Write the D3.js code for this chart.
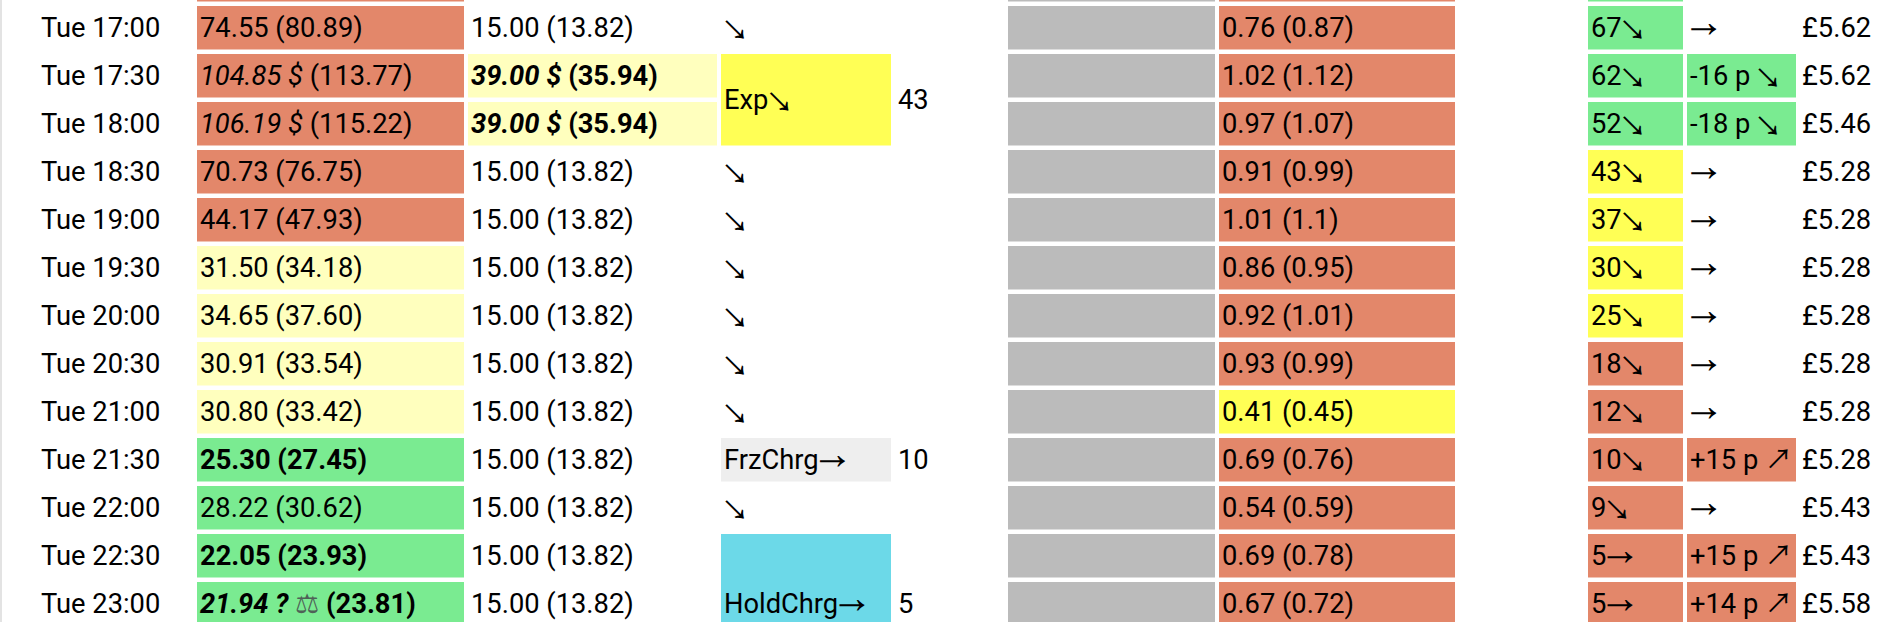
<!DOCTYPE html>
<html lang="en">
<head>
<meta charset="UTF-8" />
<title>Battery plan</title>
<style>
  html, body { margin: 0; padding: 0; background: #fff; overflow: hidden; }
  svg { display: block; font-family: Roboto, "DejaVu Sans", sans-serif; font-size: 27.3px; }
</style>
</head>
<body>
<svg id="chart" width="1888" height="622"></svg>
<script src="https://d3js.org/d3.v7.min.js"></script>
<script>
// row 0 is the half-hidden row at the top of the picture
var times = ["Tue 16:30", "Tue 17:00", "Tue 17:30", "Tue 18:00", "Tue 18:30", "Tue 19:00", "Tue 19:30",
  "Tue 20:00", "Tue 20:30", "Tue 21:00", "Tue 21:30", "Tue 22:00", "Tue 22:30", "Tue 23:00"];

var importPrice    = [null, 74.55, 104.85, 106.19, 70.73, 44.17, 31.50, 34.65, 30.91, 30.80, 25.30, 28.22, 22.05, 21.94];
var importPriceVat = [null, 80.89, 113.77, 115.22, 76.75, 47.93, 34.18, 37.60, 33.54, 33.42, 27.45, 30.62, 23.93, 23.81];
var importFlag     = ["", "", "$", "$", "", "", "", "", "", "", "", "", "", "? \u2696"];
var importBand     = ["orange", "orange", "orange", "orange", "orange", "orange", "pale", "pale", "pale", "pale", "green", "green", "green", "green"];
var importBest     = [false, false, false, false, false, false, false, false, false, false, true, false, true, true];

var exportPrice    = [null, 15.00, 39.00, 39.00, 15.00, 15.00, 15.00, 15.00, 15.00, 15.00, 15.00, 15.00, 15.00, 15.00];
var exportPriceVat = [null, 13.82, 35.94, 35.94, 13.82, 13.82, 13.82, 13.82, 13.82, 13.82, 13.82, 13.82, 13.82, 13.82];
var exportFlag     = ["", "", "$", "$", "", "", "", "", "", "", "", "", "", ""];

// actions: row where the block starts, how many rows it covers
var actionRow   = [1, 2, 4, 5, 6, 7, 8, 9, 10, 11, 12];
var actionSpan  = [1, 2, 1, 1, 1, 1, 1, 1, 1, 1, 3];
var actionLabel = ["\u2198", "Exp\u2198", "\u2198", "\u2198", "\u2198", "\u2198", "\u2198", "\u2198", "FrzChrg\u2192", "\u2198", "HoldChrg\u2192"];
var actionKind  = ["", "export", "", "", "", "", "", "", "freeze", "", "hold"];
var actionCount = ["", "43", "", "", "", "", "", "", "10", "", "5"];

var load     = [null, "0.76", "1.02", "0.97", "0.91", "1.01", "0.86", "0.92", "0.93", "0.41", "0.69", "0.54", "0.69", "0.67"];
var loadVat  = [null, "0.87", "1.12", "1.07", "0.99", "1.1", "0.95", "1.01", "0.99", "0.45", "0.76", "0.59", "0.78", "0.72"];
var loadBand = ["orange", "orange", "orange", "orange", "orange", "orange", "orange", "orange", "orange", "yellow", "orange", "orange", "orange", "orange"];

var soc      = [null, 67, 62, 52, 43, 37, 30, 25, 18, 12, 10, 9, 5, 5];
var socTrend = ["", "\u2198", "\u2198", "\u2198", "\u2198", "\u2198", "\u2198", "\u2198", "\u2198", "\u2198", "\u2198", "\u2198", "\u2192", "\u2192"];
var socBand  = ["green", "green", "green", "green", "yellow", "yellow", "yellow", "yellow", "orange", "orange", "orange", "orange", "orange", "orange"];

var costChange = [null, 0, -16, -18, 0, 0, 0, 0, 0, 0, 15, 0, 15, 14];
var dayCost    = [null, 5.62, 5.62, 5.46, 5.28, 5.28, 5.28, 5.28, 5.28, 5.28, 5.28, 5.43, 5.43, 5.58];

var colours = {
  orange: "#e3876a", green: "#7aeb91", pale: "#ffffbe", yellow: "#ffff55",
  grey: "#bbbbbb", freeze: "#eeeeee", hold: "#6cd9e8"
};

var colKeys = ["time", "import", "export", "action", "count", "grid", "load", "gap", "soc", "change", "cost"];
var colLeft = [38, 197, 468, 721, 895, 1008, 1219, 1459, 1588, 1687, 1799];
var colWidth = [155, 267, 249, 170, 109, 207, 236, 125, 95, 109, 89];

var x = d3.scaleOrdinal().domain(colKeys).range(colLeft);
var w = d3.scaleOrdinal().domain(colKeys).range(colWidth);
var y = d3.scaleLinear().domain([0, 1]).range([-42, 6]);
var gap = 4.5;
var f2 = d3.format(".2f");

var cells = [];
function add(col, row, span, bg, parts) {
  cells.push({ col: col, row: row, span: span, bg: bg, parts: parts });
}

times.forEach(function (t, i) {
  add("time", i, 1, null, [{ t: t }]);

  var ip = importPrice[i] == null ? [] :
    (importFlag[i] ? [{ t: f2(importPrice[i]) + " " + importFlag[i], it: true }, { t: " (" + f2(importPriceVat[i]) + ")" }]
                   : [{ t: f2(importPrice[i]) + " (" + f2(importPriceVat[i]) + ")" }]);
  ip.forEach(function (p) { p.b = importBest[i]; });
  add("import", i, 1, colours[importBand[i]], ip);

  var ep = exportPrice[i] == null ? [] :
    (exportFlag[i] ? [{ t: f2(exportPrice[i]) + " " + exportFlag[i], it: true, b: true }, { t: " (" + f2(exportPriceVat[i]) + ")", b: true }]
                   : [{ t: f2(exportPrice[i]) + " (" + f2(exportPriceVat[i]) + ")" }]);
  add("export", i, 1, exportFlag[i] ? colours.pale : null, ep);

  add("grid", i, 1, colours.grey, []);
  add("load", i, 1, colours[loadBand[i]], load[i] == null ? [] : [{ t: load[i] + " (" + loadVat[i] + ")" }]);
  add("soc", i, 1, colours[socBand[i]], soc[i] == null ? [] : [{ t: soc[i] + socTrend[i] }]);

  var c = costChange[i];
  if (c == null) add("change", i, 1, null, []);
  else if (c == 0) add("change", i, 1, null, [{ t: "\u2192" }]);
  else add("change", i, 1, c < 0 ? colours.green : colours.orange,
    [{ t: (c > 0 ? "+" : "") + c + " p " + (c < 0 ? "\u2198" : "\u2197") }]);

  add("cost", i, 1, null, dayCost[i] == null ? [] : [{ t: "\u00a3" + f2(dayCost[i]) }]);
});

actionRow.forEach(function (r, k) {
  var kind = actionKind[k];
  var bg = kind == "export" ? colours.yellow : kind == "freeze" ? colours.freeze : kind == "hold" ? colours.hold : null;
  add("action", r, actionSpan[k], bg, [{ t: actionLabel[k] }]);
  add("count", r, actionSpan[k], null, actionCount[k] ? [{ t: actionCount[k] }] : []);
});

// the arrows and the scales sign come from other fonts than the digits
var glyphFont = {
  "\u2198": "Noto Sans Math", "\u2192": "Noto Sans Math",
  "\u2197": "Noto Sans CJK JP", "\u2696": "DejaVu Sans"
};
cells.forEach(function (d) {
  var runs = [];
  d.parts.forEach(function (p) {
    p.t.split(/([\u2198\u2192\u2197\u2696])/).forEach(function (s) {
      if (s) runs.push({ t: s, it: p.it, b: p.b, font: glyphFont[s], sign: s == "\u2696" });
    });
  });
  d.runs = runs;
});

var svg = d3.select("#chart");

svg.append("rect").attr("x", 0).attr("y", 0).attr("width", 2).attr("height", 622).attr("fill", "#e3e3e3");

var cell = svg.selectAll("g.cell")
  .data(cells)
  .join("g")
  .attr("class", "cell");

function cellH(d) { return y(d.span) - y(0) - gap; }

cell.filter(function (d) { return d.bg; })
  .append("rect")
  .attr("x", function (d) { return x(d.col); })
  .attr("y", function (d) { return y(d.row); })
  .attr("width", function (d) { return w(d.col); })
  .attr("height", cellH)
  .attr("fill", function (d) { return d.bg; });

// texts of the half-hidden top row stay out of the picture
cell.filter(function (d) { return d.row > 0; })
  .append("text")
  .attr("x", function (d) { return x(d.col) + 3; })
  .attr("y", function (d) { return y(d.row) + cellH(d) / 2; })
  .attr("dy", "0.355em")
  .attr("fill", "#000")
  .attr("xml:space", "preserve")
  .selectAll("tspan")
  .data(function (d) { return d.runs; })
  .join("tspan")
  .attr("font-style", function (p) { return p.it ? "italic" : null; })
  .attr("font-weight", function (p) { return p.b ? "bold" : null; })
  .attr("font-family", function (p) { return p.font || null; })
  .attr("fill", function (p) { return p.sign ? "#4f6157" : null; })
  .attr("font-size", function (p) { return p.sign ? "27px" : null; })
  .text(function (p) { return p.t; });
</script>
</body>
</html>
